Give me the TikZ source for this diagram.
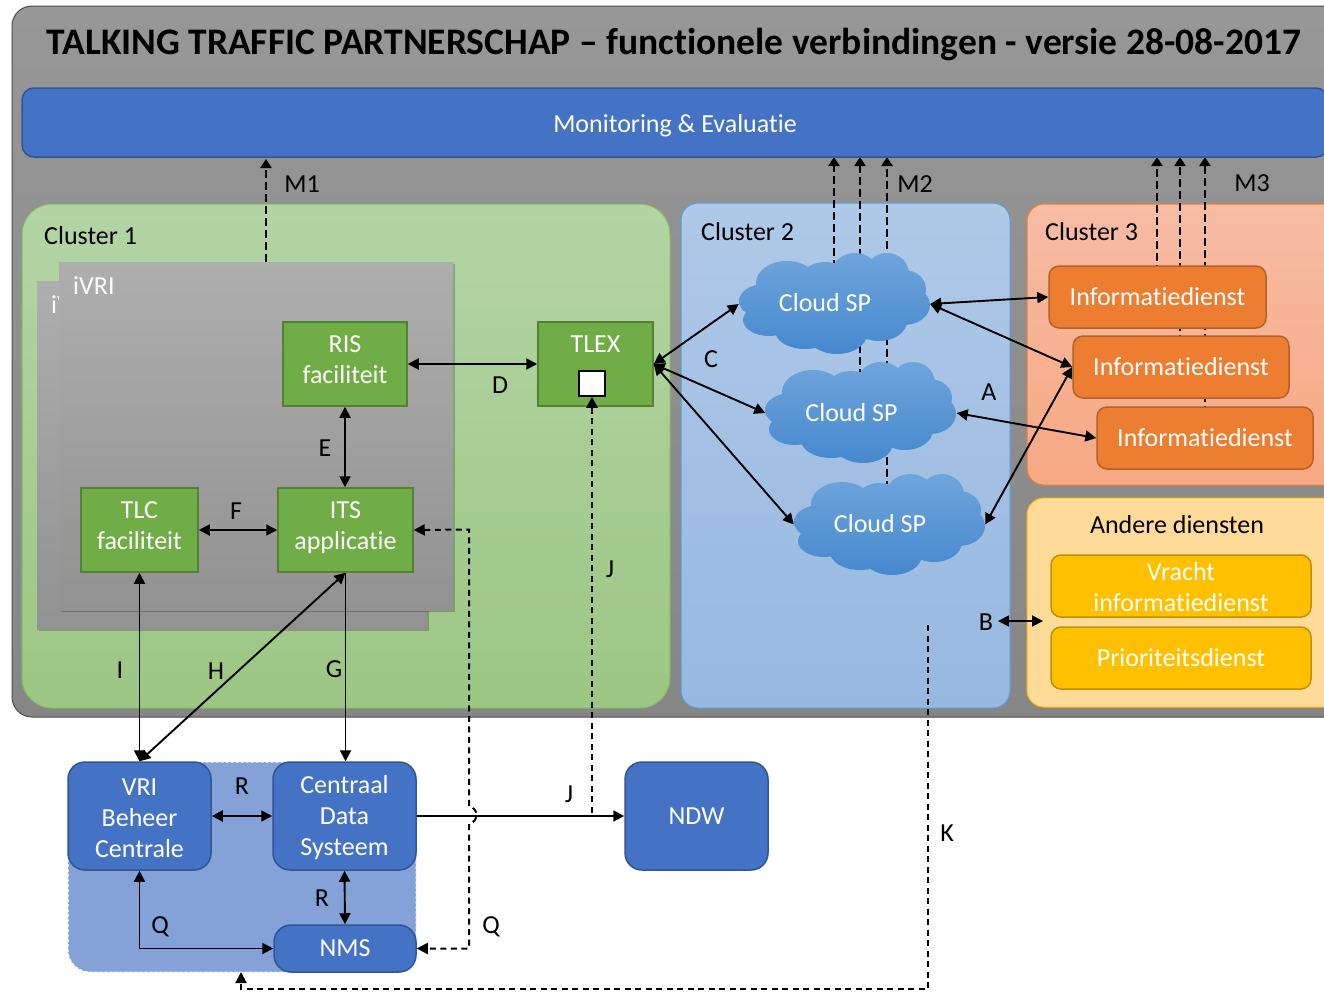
\documentclass[tikz,border=0pt]{standalone}
\usepackage{fontspec}
\setmainfont{Carlito}[Ligatures=NoCommon]
\usetikzlibrary{arrows.meta,shadows}
\pgfdeclarelayer{back}
\pgfdeclarelayer{lines}
\pgfsetlayers{back,lines,main}
\newcommand{\upshift}[1]{\rule[-#1]{0pt}{#1}}
\tikzset{
  lbl/.style={font=\fontsize{26}{30}\selectfont,inner sep=0pt,text=black,yshift=-1pt},
  wbox/.style 2 args={rectangle,minimum width=#1,minimum height=#2,inner sep=0pt,align=center,text=white,font=\fontsize{26}{31}\selectfont},
  greenbox/.style={line width=1.5pt,draw=greenedge,fill=greenfill},
  bluebox/.style={rounded corners=17pt,line width=1.5pt,draw=blueedge,fill=bluefill},
  orangebox/.style={rounded corners=10pt,line width=1.5pt,draw=orangeedge,fill=orangefill},
  yellowbox/.style={rounded corners=10pt,line width=1.5pt,draw=yellowedge,fill=yellowfill},
  ivribox/.style={rectangle,inner sep=0pt,top color=ivritop,bottom color=ivribot,drop shadow={shadow xshift=2pt,shadow yshift=-2pt,opacity=.22,fill=black}},
  conn/.style={line width=1.9pt,draw=black,arrows={Triangle[length=11pt,width=11pt]-Triangle[length=11pt,width=11pt]}},
  oneway/.style={line width=1.9pt,draw=black,-{Triangle[length=11pt,width=11pt]}},
  thin dash/.style={line width=2pt,draw=black,dash pattern=on 6pt off 4.5pt},
  thick dash/.style={line width=2.8pt,draw=black,dash pattern=on 8pt off 4pt,-{Triangle[length=9pt,width=11pt]}},
  cloudfill/.style={top color=cloudtop,bottom color=cloudbot},
}
\definecolor{bgtop}{HTML}{979797}
\definecolor{bgbot}{HTML}{868686}
\definecolor{bluefill}{HTML}{4472C4}
\definecolor{blueedge}{HTML}{2F5597}
\definecolor{greenfill}{HTML}{70AD47}
\definecolor{greenedge}{HTML}{548235}
\definecolor{orangefill}{HTML}{ED7D31}
\definecolor{orangeedge}{HTML}{B4622A}
\definecolor{yellowfill}{HTML}{FFC000}
\definecolor{yellowedge}{HTML}{BF9000}
\definecolor{ivritop}{HTML}{AEAEAE}
\definecolor{ivribot}{HTML}{929292}
\definecolor{cloudtop}{HTML}{6FA5DC}
\definecolor{cloudbot}{HTML}{4688CE}
\definecolor{greena}{HTML}{B3D5A5}
\definecolor{greenb}{HTML}{9DC683}
\definecolor{bluea}{HTML}{AFC9E8}
\definecolor{blueb}{HTML}{97B8E0}
\definecolor{bluec}{HTML}{5B9BD5}
\definecolor{ora}{HTML}{F7BCA4}
\definecolor{orb}{HTML}{F7A883}
\definecolor{yela}{HTML}{FFDB9A}
\definecolor{regionfill}{HTML}{84A1D8}
\newcommand{\cloudat}[2]{%
  \begin{scope}[shift={(#1,#2)}]
    \shade[cloudfill]
      (48,30) ellipse[x radius=31pt,y radius=22pt]
      (86,26) ellipse[x radius=24pt,y radius=17pt]
      (116,21) ellipse[x radius=24pt,y radius=21pt]
      (148,21) ellipse[x radius=22pt,y radius=21pt]
      (165,36) ellipse[x radius=22pt,y radius=19pt]
      (165,52) ellipse[x radius=26pt,y radius=20pt]
      (26,48) ellipse[x radius=26pt,y radius=17pt]
      (30,67) ellipse[x radius=26pt,y radius=16pt]
      (66,78) ellipse[x radius=30pt,y radius=18pt]
      (98,81) ellipse[x radius=30pt,y radius=20pt]
      (140,68) ellipse[x radius=28pt,y radius=20pt]
      (95,50) ellipse[x radius=80pt,y radius=34pt];
  \end{scope}}
\begin{document}
\begin{tikzpicture}[x=1pt,y=-1pt]
\useasboundingbox (0,0) rectangle (1324,991);
\clip (0,0) rectangle (1324,991);

\begin{pgfonlayer}{back}
  \fill[white] (0,0) rectangle (1324,991);
  \draw[rounded corners=20pt,line width=1pt,draw=black!70,top color=bgtop,bottom color=bgbot] (12,6) rectangle (1350,717);
  \draw[rounded corners=30pt,line width=1pt,draw=greenfill!85,top color=greena,bottom color=greenb] (22,204) rectangle (670,708);
  \draw[rounded corners=17pt,line width=1pt,draw=bluec,top color=bluea,bottom color=blueb] (681,203) rectangle (1010,708);
  \draw[rounded corners=17pt,line width=1pt,draw=orangefill,top color=ora,bottom color=orb] (1027,204) rectangle (1350,485);
  \draw[rounded corners=17pt,line width=1pt,draw=yellowfill,fill=yela] (1027,498) rectangle (1350,707);
  \draw[rounded corners=22pt,line width=1pt,draw=white,dash pattern=on 3pt off 2pt,fill=regionfill] (68,762) rectangle (416,972);
\end{pgfonlayer}

\node[lbl,font=\fontsize{37.5}{42}\selectfont\bfseries] (title) at (674,44) {TALKING TRAFFIC PARTNERSCHAP – functionele verbindingen - versie 28-08-2017};
\node[wbox={1306pt}{69pt},rounded corners=12pt,line width=1.5pt,draw=blueedge,fill=bluefill] (mon) at (675,122.5) {};
\node[lbl,text=white] (montext) at (675,125) {Monitoring \& Evaluatie};

\node[lbl,anchor=west] (c1) at (44,235) {Cluster 1};
\node[lbl,anchor=west] (c2) at (701,231) {Cluster 2};
\node[lbl,anchor=west] (c3) at (1045,231) {Cluster 3};
\node[lbl] (andere) at (1177,524) {Andere diensten};

% iVRI panels
\node[ivribox,minimum width=390pt,minimum height=348pt] (ivriback) at (232,455) {};
\node[lbl,text=white,anchor=west] (ivribacklabel) at (51,304) {iVRI};
\node[ivribox,minimum width=394pt,minimum height=348pt] (ivri) at (256,436) {};
\node[lbl,text=white,anchor=west] (ivrilabel) at (73,285) {iVRI};

% green boxes
\node[wbox={124pt}{84pt},greenbox] (ris) at (345,364) {RIS\\faciliteit\upshift{8pt}};
\node[wbox={115pt}{84pt},greenbox] (tlex) at (595.5,364) {};
\node[lbl,text=white] (tlextext) at (595.5,343) {TLEX};
\node[rectangle,minimum width=26pt,minimum height=25pt,inner sep=0pt,draw=black,line width=1.5pt,fill=white] (sq) at (592,383.5) {};
\node[wbox={117pt}{84pt},greenbox] (tlc) at (139.5,530) {TLC\\faciliteit\upshift{8pt}};
\node[wbox={135pt}{84pt},greenbox] (its) at (345.5,530) {ITS\\applicatie\upshift{8pt}};

% clouds
\cloudat{739}{253}
\node[wbox={191pt}{102pt}] (cloud1) at (834.5,304) {Cloud SP\hspace{19pt}\upshift{3pt}};
\cloudat{765}{362}
\node[wbox={191pt}{102pt}] (cloud2) at (861,413) {Cloud SP\hspace{19pt}\upshift{2pt}};
\cloudat{794}{474}
\node[wbox={191pt}{102pt}] (cloud3) at (889.5,524.5) {Cloud SP\hspace{19pt}\upshift{3pt}};

% cluster 3 services
\node[wbox={217pt}{62pt},orangebox] (info1) at (1157.5,297) {Informatiedienst};
\node[wbox={216pt}{62pt},orangebox] (info2) at (1181,367) {Informatiedienst};
\node[wbox={216pt}{62pt},orangebox] (info3) at (1205,438) {Informatiedienst};

% other services
\node[wbox={260pt}{62pt},yellowbox] (vracht) at (1181,586) {\rule{0pt}{21pt}Vracht\\informatiedienst};
\node[wbox={260pt}{62pt},yellowbox] (prio) at (1181,658) {Prioriteitsdienst};

% central systems
\node[wbox={143pt}{108pt},bluebox] (vri) at (139.5,816) {\rule{0pt}{21pt}VRI\\Beheer\\Centrale};
\node[wbox={143pt}{108pt},bluebox] (cds) at (344.5,816) {\rule{0pt}{22pt}Centraal\\Data\\Systeem};
\node[wbox={142pt}{47pt},bluebox] (nms) at (345,948.5) {NMS};
\node[wbox={143pt}{108pt},bluebox] (ndw) at (696.5,816) {NDW};

% free-end coordinates
\coordinate (kend) at (241,972);
\coordinate (m1) at (266,159);
\coordinate (m2a) at (834,157);
\coordinate (m2b) at (860,157);
\coordinate (m2c) at (887,157);
\coordinate (m3a) at (1157,157);
\coordinate (m3b) at (1180,157);
\coordinate (m3c) at (1205,157);
\coordinate (kstart) at (928,625);
\coordinate (bl) at (998,621);
\coordinate (br) at (1043,621);

\begin{pgfonlayer}{lines}
  \draw[thick dash] (cloud1.center -| m2a) -- (m2a);
  \draw[thick dash] (cloud2.center -| m2b) -- (m2b);
  \draw[thick dash] (cloud3.center -| m2c) -- (m2c);
  \draw[thick dash] (info1.center -| m3a) -- (m3a);
  \draw[thick dash] (info2.center -| m3b) -- (m3b);
  \draw[thick dash] (info3.center -| m3c) -- (m3c);
  \draw[thick dash] (ivri.north -| m1) -- (m1);
\end{pgfonlayer}

% connectors
\draw[conn] (ris.east) -- (tlex.west);
\draw[conn] (ris.south) -- (its.north -| ris.south);
\draw[conn] (tlc.east) -- (its.west);
\draw[conn] (tlc.south) -- (vri.north);
\draw[conn] (its.south) -- (vri.north);
\draw[oneway] (its.south) -- (cds.north -| its.south);
\draw[conn] (vri.east) -- (cds.west);
\draw[conn] (cds.south) -- (nms.north);
\draw[conn] (vri.south) -- (vri.south |- nms.west) -- (nms.west);
\draw[oneway] (cds.east) -- (ndw.west);
\draw[thin dash,-{Triangle[length=11pt,width=11pt]}] (cds.east) -- (sq.south |- cds.east) -- (sq.south);
\draw[thin dash,arrows={Triangle[length=11pt,width=11pt]-Triangle[length=11pt,width=11pt]}]
  (its.east) -- (469,529.5) -- (469,806) .. controls (479,809) and (479,821) .. (469,824) -- (469,948.5) -- (nms.east);
\draw[thin dash,-{Triangle[length=11pt,width=11pt]}] (kstart) -- (928,989) -- (241,989) -- (kend);

\draw[conn] (tlex.east) -- (cloud1.west);
\draw[conn] (tlex.east) -- (cloud2.west);
\draw[conn] (tlex.east) -- (cloud3.west);
\draw[conn] (cloud1.east) -- (info1.west);
\draw[conn] (cloud1.east) -- (info2.west);
\draw[conn] (cloud2.east) -- (info3.west);
\draw[conn] (cloud3.east) -- (info2.west);
\draw[conn] (bl) -- (br);

% connector labels
\node[lbl] (lm1) at (302,183) {M1};
\node[lbl] (lm2) at (915,183) {M2};
\node[lbl] (lm3) at (1252,182) {M3};
\node[lbl] (la) at (989,391) {A};
\node[lbl] (lb) at (986,621) {B};
\node[lbl] (lc) at (711,358) {C};
\node[lbl] (ld) at (500,384) {D};
\node[lbl] (le) at (325,447) {E};
\node[lbl] (lf) at (236,510) {F};
\node[lbl] (lg) at (334,668) {G};
\node[lbl] (lh) at (216,670) {H};
\node[lbl] (li) at (120,669) {I};
\node[lbl] (lj1) at (610,568) {J};
\node[lbl] (lj2) at (569,793) {J};
\node[lbl] (lk) at (947,832) {K};
\node[lbl] (lr1) at (242,785) {R};
\node[lbl] (lr2) at (322,897) {R};
\node[lbl] (lq1) at (160,926) {Q};
\node[lbl] (lq2) at (491,926) {Q};
\end{tikzpicture}
\end{document}
